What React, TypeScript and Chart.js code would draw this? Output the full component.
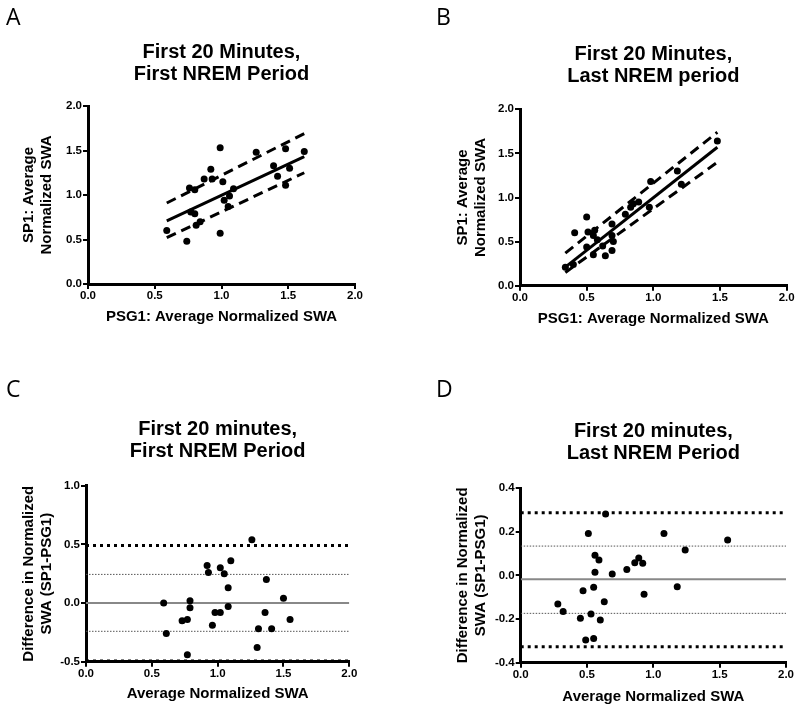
import React, { useEffect, useRef } from "react";
import { Chart, registerables } from "chart.js";
Chart.register(...registerables);

const FONT = "'Liberation Sans', Arial, Helvetica, sans-serif";

// ---------- Panel A: First 20 min, first NREM ----------
const aPSG1 = [0.59, 0.74, 0.76, 0.80, 0.77, 0.80, 0.81, 0.84, 0.87, 0.92, 0.93, 0.99, 0.99, 1.01, 1.02, 1.06, 1.05, 1.09, 1.26, 1.39, 1.42, 1.48, 1.48, 1.51, 1.62];
const aSP1 = [0.60, 0.48, 1.08, 1.06, 0.81, 0.79, 0.66, 0.70, 1.18, 1.29, 1.18, 1.53, 0.57, 1.15, 0.94, 0.99, 0.87, 1.07, 1.48, 1.33, 1.21, 1.52, 1.11, 1.30, 1.49];
const aFitX = [0.59, 1.62];
const aFitY = [0.71, 1.43];
const aUpperY = [0.91, 1.69];
const aLowerY = [0.52, 1.25];

// ---------- Panel B: First 20 min, last NREM ----------
const bPSG1 = [0.34, 0.40, 0.55, 0.50, 0.64, 0.41, 0.62, 0.58, 0.69, 0.51, 0.55, 0.56, 0.70, 0.50, 0.69, 0.69, 0.79, 0.83, 0.85, 0.89, 0.97, 0.98, 1.21, 1.18, 1.48];
const bSP1 = [0.21, 0.24, 0.35, 0.44, 0.34, 0.60, 0.45, 0.52, 0.40, 0.61, 0.57, 0.63, 0.50, 0.78, 0.57, 0.70, 0.81, 0.89, 0.93, 0.95, 0.89, 1.18, 1.15, 1.30, 1.64];
const bFitX = [0.34, 1.48];
const bFitY = [0.21, 1.57];
const bUpperY = [0.37, 1.74];
const bLowerY = [0.15, 1.40];

// ---------- Panel C: Bland-Altman, first NREM ----------
const cMean = [0.59, 0.61, 0.73, 0.77, 0.79, 0.79, 0.77, 0.92, 0.93, 0.96, 0.98, 1.02, 1.02, 1.05, 1.08, 1.08, 1.10, 1.26, 1.37, 1.36, 1.31, 1.30, 1.41, 1.50, 1.55];
const cDiff = [0.00, -0.26, -0.15, -0.14, 0.02, -0.04, -0.44, 0.32, 0.26, -0.19, -0.08, 0.30, -0.08, 0.25, 0.13, -0.03, 0.36, 0.54, 0.20, -0.08, -0.22, -0.38, -0.22, 0.04, -0.14];
const cBias = 0.0;
const cLoA = [0.49, -0.494];
const cInner = [0.244, -0.241];

// ---------- Panel D: Bland-Altman, last NREM ----------
const dMean = [0.28, 0.32, 0.45, 0.47, 0.49, 0.51, 0.53, 0.55, 0.55, 0.56, 0.56, 0.59, 0.60, 0.64, 0.63, 0.69, 0.80, 0.86, 0.89, 0.92, 0.93, 1.08, 1.18, 1.24, 1.56];
const dDiff = [-0.131, -0.166, -0.197, -0.070, -0.296, 0.192, -0.177, -0.055, -0.289, 0.092, 0.014, 0.070, -0.205, 0.281, -0.121, 0.006, 0.027, 0.058, 0.079, 0.055, -0.086, 0.192, -0.052, 0.116, 0.162];
const dBias = -0.018;
const dLoA = [0.287, -0.327];
const dInner = [0.134, -0.174];

const lineSpanX = [0, 2];

const pts = (xs: number[], ys: number[]) => xs.map((x, i) => ({ x, y: ys[i] }));

const scatterDs = (xs: number[], ys: number[]) => ({
  data: pts(xs, ys),
  pointRadius: 3.5,
  pointBackgroundColor: "#000",
  pointBorderWidth: 0,
  showLine: false,
  order: 0,
});

const lineDs = (xs: number[], ys: number[], width: number, dash: number[], color = "#000") => ({
  data: pts(xs, ys),
  showLine: true,
  pointRadius: 0,
  borderColor: color,
  borderWidth: width,
  borderDash: dash,
  borderCapStyle: "butt",
  fill: false,
  order: 1,
});

const hLine = (y: number, width: number, dash: number[], color = "#000") =>
  lineDs(lineSpanX, [y, y], width, dash, color);

type Panel = {
  letter: string;
  canvas: { left: number; top: number; width: number; height: number };
  plot: { left: number; top: number; right: number; bottom: number };
  letterX: number;
  letterY: number;
  title: string[];
  titleY: number;
  yTitle: string[];
  yTitleX: number;
  xTitle: string;
  xTitleY: number;
  yMin: number;
  yMax: number;
  yStep: number;
  datasets: any[];
};

const panels: Panel[] = [
  {
    letter: "A",
    canvas: { left: 0, top: 0, width: 400, height: 340 },
    plot: { left: 88, top: 106, right: 355, bottom: 284 },
    letterX: 6, letterY: 25,
    title: ["First 20 Minutes,", "First NREM Period"], titleY: 52.5,
    yTitle: ["SP1: Average", "Normalized SWA"], yTitleX: 29,
    xTitle: "PSG1: Average Normalized SWA", xTitleY: 317,
    yMin: 0, yMax: 2, yStep: 0.5,
    datasets: [
      lineDs(aFitX, aFitY, 3, []),
      lineDs(aFitX, aUpperY, 3, [10, 6]),
      lineDs(aFitX, aLowerY, 3, [10, 6]),
      scatterDs(aPSG1, aSP1),
    ],
  },
  {
    letter: "B",
    canvas: { left: 400, top: 0, width: 400, height: 340 },
    plot: { left: 520, top: 109.3, right: 786.7, bottom: 285.7 },
    letterX: 436, letterY: 25,
    title: ["First 20 Minutes,", "Last NREM period"], titleY: 54,
    yTitle: ["SP1: Average", "Normalized SWA"], yTitleX: 463,
    xTitle: "PSG1: Average Normalized SWA", xTitleY: 319,
    yMin: 0, yMax: 2, yStep: 0.5,
    datasets: [
      lineDs(bFitX, bFitY, 3, []),
      lineDs(bFitX, bUpperY, 3, [10, 6]),
      lineDs(bFitX, bLowerY, 3, [10, 6]),
      scatterDs(bPSG1, bSP1),
    ],
  },
  {
    letter: "C",
    canvas: { left: 0, top: 340, width: 400, height: 370 },
    plot: { left: 86, top: 485.7, right: 349.3, bottom: 661.7 },
    letterX: 6, letterY: 397,
    title: ["First 20 minutes,", "First NREM Period"], titleY: 429,
    yTitle: ["Difference in Normalized", "SWA (SP1-PSG1)"], yTitleX: 29.3,
    xTitle: "Average Normalized SWA", xTitleY: 694,
    yMin: -0.5, yMax: 1.0, yStep: 0.5,
    datasets: [
      hLine(cBias, 2, [], "#888"),
      hLine(cInner[0], 1, [1.5, 1.5], "#555"),
      hLine(cInner[1], 1, [1.5, 1.5], "#555"),
      hLine(cLoA[0], 3, [3, 4]),
      hLine(cLoA[1], 3, [3, 4]),
      scatterDs(cMean, cDiff),
    ],
  },
  {
    letter: "D",
    canvas: { left: 400, top: 340, width: 400, height: 370 },
    plot: { left: 520.7, top: 488, right: 786, bottom: 662.7 },
    letterX: 436, letterY: 397,
    title: ["First 20 minutes,", "Last NREM Period"], titleY: 431,
    yTitle: ["Difference in Normalized", "SWA (SP1-PSG1)"], yTitleX: 463.3,
    xTitle: "Average Normalized SWA", xTitleY: 697,
    yMin: -0.4, yMax: 0.4, yStep: 0.2,
    datasets: [
      hLine(dBias, 2, [], "#888"),
      hLine(dInner[0], 1, [1.5, 1.5], "#555"),
      hLine(dInner[1], 1, [1.5, 1.5], "#555"),
      hLine(dLoA[0], 3, [3, 4]),
      hLine(dLoA[1], 3, [3, 4]),
      scatterDs(dMean, dDiff),
    ],
  },
];

const TITLE_SIZE = 20;
const TITLE_LH = 1.12;
const AXT_SIZE = 15;
const AXT_LH = 1.16;
const TICK_SIZE = 11.5;

function PanelChart({ p }: { p: Panel }) {
  const ref = useRef<HTMLCanvasElement | null>(null);
  useEffect(() => {
    if (!ref.current) return;
    const c = p.canvas;
    const tLH = TITLE_SIZE * TITLE_LH;
    const aLH = AXT_SIZE * AXT_LH;
    const titlePadTop = p.titleY - c.top - tLH / 2;
    const titlePadBottom = p.plot.top - c.top - titlePadTop - tLH * p.title.length;
    const yAxisWidth = p.plot.left - c.left;
    const xAxisHeight = c.top + c.height - p.plot.bottom;
    const padRight = c.left + c.width - p.plot.right;
    const yTitlePad = p.yTitleX - c.left - aLH / 2;
    const xTitlePad = c.top + c.height - p.xTitleY - aLH / 2;

    const letterPlugin = {
      id: "panelLetter",
      afterDraw(chart: any) {
        const ctx = chart.ctx;
        ctx.save();
        ctx.font = "23px 'Open Sans', 'DejaVu Sans', sans-serif";
        ctx.fillStyle = "#000";
        ctx.textBaseline = "alphabetic";
        ctx.textAlign = "left";
        ctx.fillText(p.letter, p.letterX - c.left, p.letterY - c.top);
        ctx.restore();
      },
    };

    const tickFont = { family: FONT, size: TICK_SIZE, weight: "bold" as const };
    const axTitleFont = { family: FONT, size: AXT_SIZE, weight: "bold" as const, lineHeight: AXT_LH };

    const chart = new Chart(ref.current, {
      type: "scatter",
      data: { datasets: p.datasets as any },
      options: {
        responsive: false,
        animation: false,
        devicePixelRatio: 1,
        layout: { padding: { left: 0, top: 0, bottom: 0, right: padRight } },
        plugins: {
          legend: { display: false },
          tooltip: { enabled: false },
          title: {
            display: true,
            text: p.title,
            color: "#000",
            fullSize: false,
            font: { family: FONT, size: TITLE_SIZE, weight: "bold", lineHeight: TITLE_LH },
            padding: { top: titlePadTop, bottom: titlePadBottom },
          },
        },
        scales: {
          x: {
            type: "linear",
            min: 0,
            max: 2,
            ticks: {
              stepSize: 0.5,
              color: "#000",
              font: tickFont,
              padding: 0,
              maxRotation: 0,
              callback: (v: any) => Number(v).toFixed(1),
            },
            grid: { drawOnChartArea: false, drawTicks: true, tickLength: 5, color: "#000", lineWidth: 2 },
            border: { display: true, color: "#000", width: 3 },
            title: { display: true, text: p.xTitle, color: "#000", font: axTitleFont, padding: { top: 0, bottom: xTitlePad } },
            afterFit: (s: any) => { s.height = xAxisHeight; },
          },
          y: {
            type: "linear",
            min: p.yMin,
            max: p.yMax,
            ticks: {
              stepSize: p.yStep,
              color: "#000",
              font: tickFont,
              padding: 1,
              callback: (v: any) => {
                const n = Math.abs(Number(v)) < 1e-9 ? 0 : Number(v);
                return n.toFixed(1);
              },
            },
            grid: { drawOnChartArea: false, drawTicks: true, tickLength: 5, color: "#000", lineWidth: 2 },
            border: { display: true, color: "#000", width: 3 },
            title: { display: true, text: p.yTitle, color: "#000", font: axTitleFont, padding: { top: yTitlePad, bottom: 0 } },
            afterFit: (s: any) => { s.width = yAxisWidth; },
          },
        },
      } as any,
      plugins: [letterPlugin],
    });
    return () => chart.destroy();
  }, [p]);
  const c = p.canvas;
  return (
    <canvas
      ref={ref}
      width={c.width}
      height={c.height}
      style={{ position: "absolute", left: c.left, top: c.top, width: c.width, height: c.height }}
    />
  );
}

export default function App() {
  return (
    <div style={{ position: "absolute", left: 0, top: 0, width: 800, height: 710, background: "#fff", overflow: "hidden" }}>
      {panels.map((p) => (
        <PanelChart key={p.letter} p={p} />
      ))}
    </div>
  );
}
